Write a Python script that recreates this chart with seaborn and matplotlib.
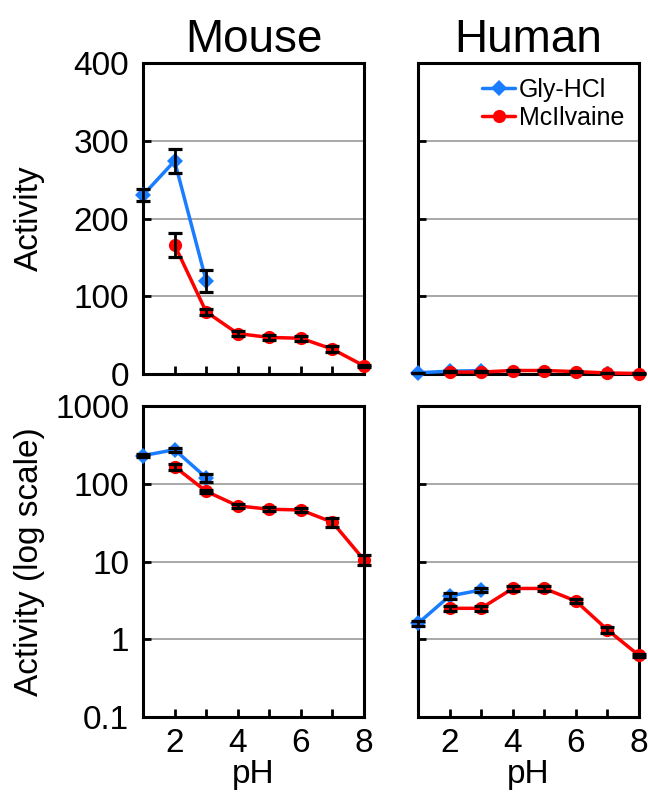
import matplotlib
matplotlib.use("Agg")
import matplotlib.pyplot as plt
import seaborn as sns
import numpy as np
import pandas as pd
from matplotlib.ticker import FixedLocator, FixedFormatter

sns.set_style("white")
plt.rcParams['font.family'] = ['Liberation Sans', 'DejaVu Sans']
plt.rcParams['text.color'] = 'black'
plt.rcParams['axes.labelcolor'] = 'black'
plt.rcParams['xtick.color'] = 'black'
plt.rcParams['ytick.color'] = 'black'

# Data
mouse_gly_ph = [1, 2, 3]
mouse_gly = [230, 274, 120]
mouse_gly_err = [8, 15, 14]
mouse_mci_ph = [2, 3, 4, 5, 6, 7, 8]
mouse_mci = [166, 80, 52, 47, 46, 32, 10.5]
mouse_mci_err = [15, 4, 3, 3, 3, 4, 1.5]

human_gly_ph = [1, 2, 3]
human_gly = [1.6, 3.6, 4.3]
human_gly_err = [0.1, 0.3, 0.2]
human_mci_ph = [2, 3, 4, 5, 6, 7, 8]
human_mci = [2.5, 2.5, 4.5, 4.5, 3.1, 1.32, 0.62]
human_mci_err = [0.2, 0.2, 0.3, 0.3, 0.2, 0.1, 0.03]

species = ["Mouse", "Human"]
buffers = ["Gly-HCl", "McIlvaine"]
lin_ticks = [0, 100, 200, 300, 400]
log_ticks = [0.1, 1, 10, 100, 1000]
log_labels = ["0.1", "1", "10", "100", "1000"]
x_ticks = [2, 4, 6, 8]

BLUE = "#1a7cff"
RED = "#ff0000"

data = {
    "Mouse": [(mouse_gly_ph, mouse_gly, mouse_gly_err), (mouse_mci_ph, mouse_mci, mouse_mci_err)],
    "Human": [(human_gly_ph, human_gly, human_gly_err), (human_mci_ph, human_mci, human_mci_err)],
}
colors = [BLUE, RED]
markers = ["D", "o"]
msizes = [8, 9.5]

fig = plt.figure(figsize=(6.48, 8.05), dpi=100)
lefts = [143 / 648, 418 / 648]
width = 221 / 648
bottoms = [1 - 374 / 805, 1 - 717 / 805]
height = 311 / 805

FS = 24

for row in range(2):
    for col in range(2):
        ax = fig.add_axes([lefts[col], bottoms[row], width, height])
        sp = species[col]
        for i, (xs, ys, es) in enumerate(data[sp]):
            df = pd.DataFrame({"pH": xs, "Activity": ys})
            sns.lineplot(data=df, x="pH", y="Activity", ax=ax, color=colors[i],
                         marker=markers[i], markersize=msizes[i], markeredgewidth=0,
                         linewidth=2.5, label=buffers[i], clip_on=False, zorder=3)
            ax.errorbar(xs, ys, yerr=es, fmt="none", ecolor="black", elinewidth=2,
                        capsize=5, capthick=2.3, zorder=4, clip_on=False)
        ax.set_xlim(1, 8)
        if row == 0:
            ax.set_ylim(0, 400)
            ax.yaxis.set_major_locator(FixedLocator(lin_ticks))
        else:
            ax.set_yscale("log")
            ax.set_ylim(0.1, 1000)
            ax.yaxis.set_major_locator(FixedLocator(log_ticks))
            ax.yaxis.set_major_formatter(FixedFormatter(log_labels))
            ax.yaxis.set_minor_locator(FixedLocator([]))
        ax.xaxis.set_major_locator(FixedLocator(x_ticks))
        ax.xaxis.set_minor_locator(FixedLocator([3, 5, 7]))
        ax.grid(axis="y", which="major", color="#a8a8a8", linewidth=1.4)
        ax.set_axisbelow(True)
        for s in ax.spines.values():
            s.set_color("black")
            s.set_linewidth(2.2)
            s.set_visible(True)
        ax.tick_params(axis="both", which="both", direction="in", length=6, width=2,
                       color="black", labelsize=FS, left=True, bottom=True,
                       labelcolor="black")
        ax.tick_params(axis="y", pad=10)
        ax.tick_params(axis="x", pad=8)
        if row == 0:
            ax.tick_params(axis="x", labelbottom=False)
            ax.set_xlabel("")
            ax.set_title(sp, fontsize=33, pad=8, color="black")
        else:
            ax.set_xlabel("pH", fontsize=FS, labelpad=0)
        if col == 1:
            ax.tick_params(axis="y", labelleft=False)
            ax.set_ylabel("")
        else:
            ax.set_ylabel("Activity" if row == 0 else "Activity (log scale)", fontsize=FS)
            ax.yaxis.set_label_coords(-0.445, 0.5)
        leg = ax.get_legend()
        if row == 0 and col == 1:
            ax.legend(loc="upper right", frameon=False, fontsize=18, handlelength=1.3,
                      handletextpad=0.15, borderaxespad=0.2, labelspacing=0.15,
                      bbox_to_anchor=(1.0, 1.0))
        elif leg is not None:
            leg.remove()

fig.savefig("out.png", dpi=100)
